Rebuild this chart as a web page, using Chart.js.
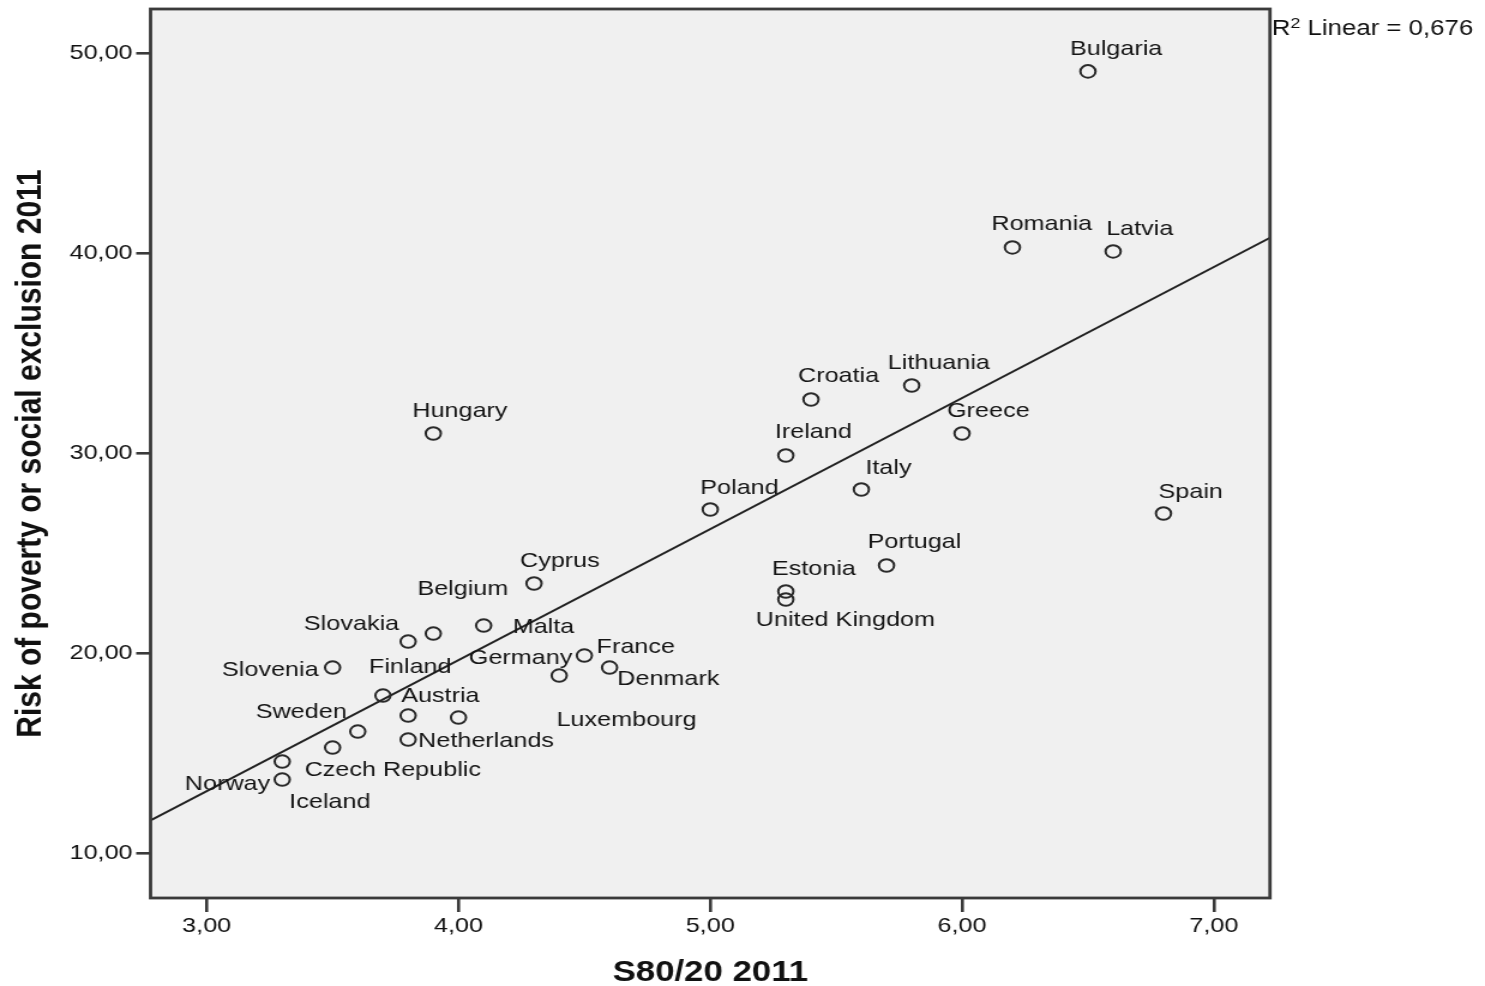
<!DOCTYPE html>
<html>
<head>
<meta charset="utf-8">
<script src="https://cdn.jsdelivr.net/npm/chart.js@4"></script>
<style>
  html, body { margin: 0; padding: 0; background: #fff; overflow: hidden; }
  #wrap {
    position: absolute; left: 0; top: 0;
    width: 1238px; height: 986px;
    transform: scaleX(1.19952); transform-origin: 0 0;
  }
</style>
</head>
<body>
<div id="wrap"><canvas id="c"></canvas></div>
<script>
// EU countries, 2011: income quintile share ratio vs. share at risk of poverty or social exclusion
const countries = ['Bulgaria','Romania','Latvia','Lithuania','Croatia','Greece','Hungary','Ireland','Italy','Spain',
  'Poland','Portugal','Cyprus','Estonia','United Kingdom','Malta','Belgium','Slovakia','Germany','Slovenia',
  'France','Denmark','Finland','Austria','Luxembourg','Sweden','Netherlands','Czech Republic','Norway','Iceland'];
const s8020 = [6.5,6.2,6.6,5.8,5.4,6.0,3.9,5.3,5.6,6.8,
  5.0,5.7,4.3,5.3,5.3,4.1,3.9,3.8,4.5,3.5,
  4.6,4.4,3.7,3.8,4.0,3.6,3.8,3.5,3.3,3.3];
const arope = [49.1,40.3,40.1,33.4,32.7,31.0,31.0,29.9,28.2,27.0,
  27.2,24.4,23.5,23.1,22.7,21.4,21.0,20.6,19.9,19.3,
  19.3,18.9,17.9,16.9,16.8,16.1,15.7,15.3,14.6,13.7];
const xTicks = [3, 4, 5, 6, 7];
const yTicks = [10, 20, 30, 40, 50];
const rSquaredText = '0,676';

// Axis ranges
const X_MIN = 2.777, X_MAX = 7.223;
const Y_MIN = 7.78, Y_MAX = 52.22;

// The page is widened horizontally by this factor
const STRETCH = 1485 / 1238;

// Label placement next to each marker: [dx, dy, align], dx in page pixels, dy to the baseline
const labelPlacement = [
  [-18,-16,'left'], [-21,-17,'left'], [-7,-16,'left'], [-24,-16,'left'], [-13,-17,'left'],
  [-15,-16,'left'], [-21,-16,'left'], [-11,-18,'left'], [4,-16,'left'], [-5,-16,'left'],
  [-10,-16,'left'], [-19,-18,'left'], [-14,-17,'left'], [-14,-17,'left'], [-30,26,'left'],
  [29,7,'left'], [-16,-39,'left'], [-9,-12,'right'], [-12,8,'right'], [-14,8,'right'],
  [-13,-15,'left'], [58,9,'left'], [-14,-23,'left'], [-7,-14,'left'], [98,8,'left'],
  [-11,-14,'right'], [10,7,'left'], [-28,28,'left'], [-12,28,'right'], [7,28,'left']
];

// Ordinary least-squares fit
function fitLine(xs, ys) {
  const n = xs.length;
  const mx = xs.reduce((a, b) => a + b, 0) / n;
  const my = ys.reduce((a, b) => a + b, 0) / n;
  let sxy = 0, sxx = 0;
  for (let i = 0; i < n; i++) {
    sxy += (xs[i] - mx) * (ys[i] - my);
    sxx += (xs[i] - mx) * (xs[i] - mx);
  }
  const slope = sxy / sxx;
  return { slope, intercept: my - slope * mx };
}
const fit = fitLine(s8020, arope);

const FONT = "'Liberation Sans', Arial, sans-serif";
Chart.defaults.font.family = FONT;

const fmt = v => Number(v).toFixed(2).replace('.', ',');

const framePlugin = {
  id: 'frame',
  beforeDraw(chart) {
    const { ctx, chartArea: a } = chart;
    ctx.save();
    ctx.fillStyle = '#ffffff';
    ctx.fillRect(0, 0, chart.width, chart.height);
    ctx.fillStyle = '#f0f0f0';
    ctx.fillRect(a.left, a.top, a.right - a.left, a.bottom - a.top);
    ctx.restore();
  },
  afterDraw(chart) {
    const { ctx, chartArea: a } = chart;
    ctx.save();
    ctx.strokeStyle = '#3a3a3a';
    ctx.lineWidth = 2.8;
    ctx.strokeRect(a.left, a.top, a.right - a.left, a.bottom - a.top);

    // fit statistic, just outside the top-right corner
    ctx.fillStyle = '#111';
    ctx.textBaseline = 'alphabetic';
    ctx.textAlign = 'left';
    let x = a.right + 1.5;
    ctx.font = '21.5px ' + FONT;
    ctx.fillText('R', x, 35);
    x += ctx.measureText('R').width;
    ctx.font = '15px ' + FONT;
    ctx.fillText('2', x, 28);
    x += ctx.measureText('2').width;
    ctx.font = '21.5px ' + FONT;
    ctx.fillText(' Linear = ' + rSquaredText, x, 35);
    ctx.restore();
  }
};

const labelPlugin = {
  id: 'pointLabels',
  afterDatasetsDraw(chart) {
    const meta = chart.getDatasetMeta(0);
    const ctx = chart.ctx;
    ctx.save();
    ctx.font = '21px ' + FONT;
    ctx.fillStyle = '#151515';
    ctx.textBaseline = 'alphabetic';
    meta.data.forEach((pt, i) => {
      const [dx, dy, align] = labelPlacement[i];
      ctx.textAlign = align;
      ctx.fillText(countries[i], pt.x + dx / STRETCH, pt.y + dy);
    });
    ctx.restore();
  }
};

new Chart(document.getElementById('c'), {
  type: 'scatter',
  data: {
    datasets: [
      {
        label: 'Countries',
        data: s8020.map((x, i) => ({ x, y: arope[i] })),
        pointStyle: 'circle',
        pointRadius: 6.3,
        pointBorderWidth: 2,
        borderColor: '#2a2a2a',
        backgroundColor: 'rgba(0,0,0,0)',
        order: 1
      },
      {
        type: 'line',
        label: 'Linear fit',
        data: [X_MIN, X_MAX].map(x => ({ x, y: fit.intercept + fit.slope * x })),
        borderColor: '#222',
        borderWidth: 2,
        pointRadius: 0,
        fill: false,
        order: 2
      }
    ]
  },
  options: {
    responsive: true,
    maintainAspectRatio: false,
    animation: false,
    devicePixelRatio: 1,
    layout: { padding: { top: 9, right: 179.25, left: 0, bottom: 0 } },
    plugins: { legend: { display: false }, tooltip: { enabled: false } },
    scales: {
      x: {
        type: 'linear',
        position: 'bottom',
        min: X_MIN,
        max: X_MAX,
        afterBuildTicks: s => { s.ticks = xTicks.map(v => ({ value: v })); },
        afterFit: s => { s.height = 88; s.paddingLeft = 0; s.paddingRight = 0; },
        ticks: {
          callback: fmt,
          font: { size: 21 },
          color: '#111',
          padding: 2,
          maxRotation: 0,
          autoSkip: false
        },
        grid: {
          drawOnChartArea: false,
          drawTicks: true,
          tickLength: 14,
          color: '#3a3a3a',
          lineWidth: 2.6
        },
        border: { display: false },
        title: {
          display: true,
          text: 'S80/20 2011',
          font: { size: 29, weight: 'bold', lineHeight: 0.9 },
          color: '#111',
          padding: 0
        }
      },
      y: {
        type: 'linear',
        min: Y_MIN,
        max: Y_MAX,
        afterBuildTicks: s => { s.ticks = yTicks.map(v => ({ value: v })); },
        afterFit: s => { s.width = 125.5; s.paddingTop = 0; s.paddingBottom = 0; },
        ticks: {
          callback: fmt,
          font: { size: 21 },
          color: '#111',
          padding: 3,
          autoSkip: false
        },
        grid: {
          drawOnChartArea: false,
          drawTicks: true,
          tickLength: 12,
          color: '#3a3a3a',
          lineWidth: 2.6
        },
        border: { display: false },
        title: {
          display: true,
          text: 'Risk of poverty or social exclusion 2011',
          font: { size: 30, weight: 'bold', lineHeight: 1 },
          color: '#111',
          padding: { top: 10.5, bottom: 0 }
        }
      }
    }
  },
  plugins: [framePlugin, labelPlugin]
});
</script>
</body>
</html>
